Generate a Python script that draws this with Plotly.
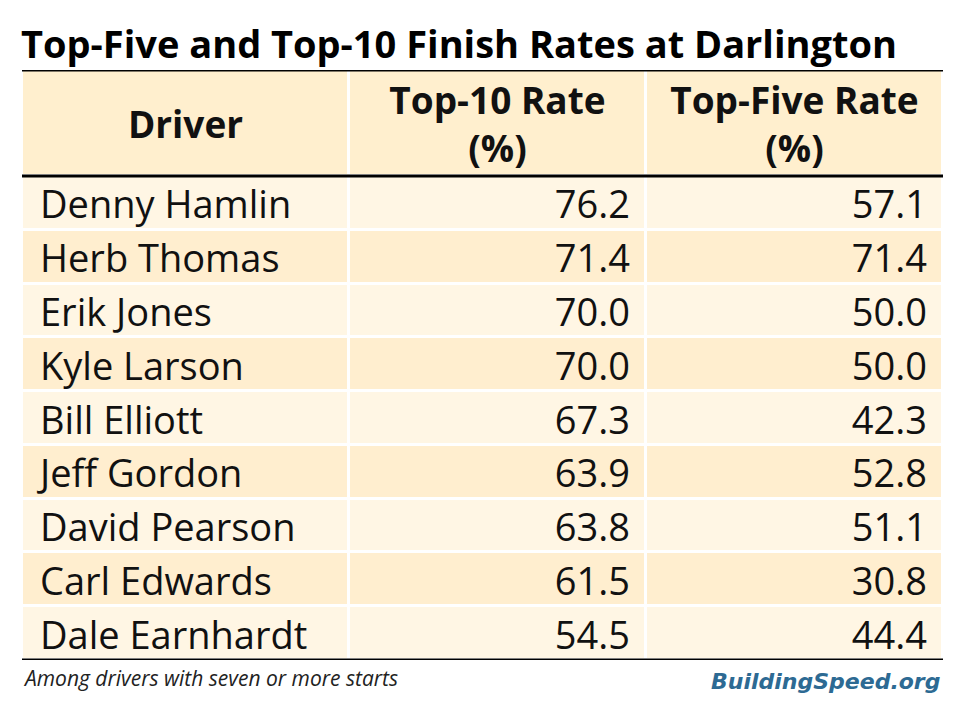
import plotly.graph_objects as go

drivers = ["Denny Hamlin", "Herb Thomas", "Erik Jones", "Kyle Larson", "Bill Elliott",
           "Jeff Gordon", "David Pearson", "Carl Edwards", "Dale Earnhardt"]
top10_rate = [76.2, 71.4, 70.0, 70.0, 67.3, 63.9, 63.8, 61.5, 54.5]
top5_rate = [57.1, 71.4, 50.0, 50.0, 42.3, 52.8, 51.1, 30.8, 44.4]
headers = ["Driver", "Top-10 Rate<br>(%)", "Top-Five Rate<br>(%)"]

W, H = 959, 713
X0, X1 = 22, 943          # table left/right in page pixels
Y0 = 70                   # table top in page pixels
col_w = [327, 297, 297]
header_h = 106
row_h = 53.78
n = len(drivers)
total_h = header_h + row_h * n
Y1 = Y0 + total_h
TEXT_DY = 6               # optical baseline shift of text inside cells

HEADER_C, ODD_C, EVEN_C = "#FFEFCE", "#FFF6E4", "#FFEECF"

# brick edges in table units (pixels)
x_edges = [0]
for w in col_w:
    x_edges.append(x_edges[-1] + w)
y_edges = [0, header_h] + [header_h + row_h * (i + 1) for i in range(n)]
z = [[0, 0, 0]] + [[1 + (i % 2)] * 3 for i in range(n)]

fig = go.Figure()
fig.add_trace(go.Heatmap(
    x=x_edges, y=y_edges, z=z, zmin=0, zmax=2,
    colorscale=[[0, HEADER_C], [0.5, ODD_C], [1, EVEN_C]],
    showscale=False, xgap=3, ygap=3, hoverinfo="skip",
))

row_centers = [header_h + row_h * (i + 0.5) + TEXT_DY for i in range(n)]
pad = 18
body_font = dict(family="Open Sans", size=38, color="#111111")
fig.add_trace(go.Scatter(
    x=[x_edges[0] + pad] * n, y=row_centers, text=drivers,
    mode="text", textposition="middle right", hoverinfo="skip", textfont=body_font,
))
fig.add_trace(go.Scatter(
    x=[x_edges[2] - 16] * n, y=row_centers, text=["%.1f" % v for v in top10_rate],
    mode="text", textposition="middle left", hoverinfo="skip", textfont=body_font,
))
fig.add_trace(go.Scatter(
    x=[x_edges[3] - 16] * n, y=row_centers, text=["%.1f" % v for v in top5_rate],
    mode="text", textposition="middle left", hoverinfo="skip", textfont=body_font,
))
fig.add_trace(go.Scatter(
    x=[(x_edges[i] + x_edges[i + 1]) / 2 for i in range(3)],
    y=[header_h / 2 + TEXT_DY] * 3,
    text=["<b>%s</b>" % h for h in headers],
    mode="text", textposition="middle center", hoverinfo="skip",
    textfont=dict(family="Open Sans", size=37, color="#111111"),
))

for y in [0, header_h, total_h]:
    fig.add_shape(type="line", xref="x", yref="y", x0=0, x1=x_edges[-1], y0=y, y1=y,
                  line=dict(color="black", width=3))

fig.add_annotation(text="<b>Top-Five and Top-10 Finish Rates at Darlington</b>",
                   xref="paper", yref="paper", x=19 / W, y=1 - 43 / H,
                   xanchor="left", yanchor="middle", showarrow=False,
                   font=dict(family="Open Sans", size=38, color="black"))
fig.add_annotation(text="<i>Among drivers with seven or more starts</i>",
                   xref="paper", yref="paper", x=21 / W, y=1 - 678 / H,
                   xanchor="left", yanchor="middle", showarrow=False,
                   font=dict(family="Open Sans", size=21, color="#222222"))
fig.add_annotation(text="<b><i>BuildingSpeed.org</i></b>",
                   xref="paper", yref="paper", x=942 / W, y=1 - 681 / H,
                   xanchor="right", yanchor="middle", showarrow=False,
                   font=dict(family="DejaVu Sans", size=22, color="#2D6A93"))

fig.update_layout(
    width=W, height=H, margin=dict(l=0, r=0, t=0, b=0),
    paper_bgcolor="white", plot_bgcolor="white", showlegend=False,
    xaxis=dict(domain=[X0 / W, X1 / W], range=[0, x_edges[-1]], visible=False, fixedrange=True),
    yaxis=dict(domain=[1 - Y1 / H, 1 - Y0 / H], range=[total_h, 0], visible=False, fixedrange=True),
)
fig.write_html("out.html", post_script="document.body.style.margin='0';",
               config={"displayModeBar": False})
